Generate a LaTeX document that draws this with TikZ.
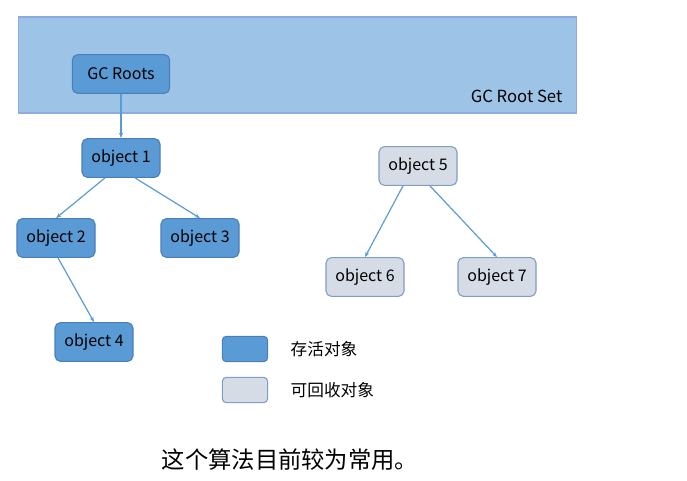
\documentclass[tikz,border=0pt]{standalone}
\usepackage{fontspec}
\setmainfont{Noto Sans CJK SC}
\usetikzlibrary{arrows.meta, positioning}
\definecolor{setFill}{HTML}{9DC3E6}
\definecolor{setLine}{HTML}{8FAADC}
\definecolor{liveFill}{HTML}{5B9BD5}
\definecolor{liveLine}{HTML}{4A7EBB}
\definecolor{deadFill}{HTML}{D6DCE5}
\definecolor{deadLine}{HTML}{7F9DC6}

\begin{document}
\begin{tikzpicture}[x=0.75pt, y=-0.75pt,
    live/.style={draw=liveLine, fill=liveFill, rounded corners=4pt, line width=0.8pt,
      minimum width=58.5pt, minimum height=29pt, font=\fontsize{12}{14}\selectfont},
    dead/.style={live, draw=deadLine, fill=deadFill},
    ref/.style={draw=liveFill, line width=0.9pt, -{Stealth[length=4pt, width=3pt]}}]
  \useasboundingbox (0,0) rectangle (687,481);
  \node[draw=setLine, fill=setFill, line width=0.8pt, minimum width=419pt, minimum height=72pt] (rootset) at (297.5,65) {};
  \node[anchor=east, font=\fontsize{12.5}{14}\selectfont] (setlabel) at (567,96) {GC Root Set};
  \node[live, minimum width=73pt] (roots) at (121,74) {GC Roots};
    \foreach \n/\x/\y/\s in
      {1/121/158/live, 2/56/238/live, 3/200/238/live, 4/94/342/live,
       5/418/166/dead, 6/365/277/dead, 7/497/277/dead} {
      \node[\s] (o\n) at (\x,\y) {object \n};
    }
  \draw[ref] (roots) -- (o1);
    \foreach \a/\b/\d in {1/2/-16, 1/3/14, 2/4/2, 5/6/-15, 5/7/12} {
      \draw[ref] ([xshift=\d*0.75pt]o\a.south) -- (o\b.north);
    }
  % legend
  \node[live, minimum width=34pt, minimum height=19pt, rounded corners=3pt] (keylive) at (245,349) {};
  \node[dead, minimum width=34pt, minimum height=19pt, rounded corners=3pt] (keydead) at (245,390) {};
  \node[anchor=west, font=\fontsize{12.5}{14}\selectfont] (livetext) at (286,349) {存活对象};
  \node[anchor=west, font=\fontsize{12.5}{14}\selectfont] (deadtext) at (286,390) {可回收对象};
  \node[font=\fontsize{17.5}{20}\selectfont] (note) at (290,460) {这个算法目前较为常用。};
\end{tikzpicture}
\end{document}
